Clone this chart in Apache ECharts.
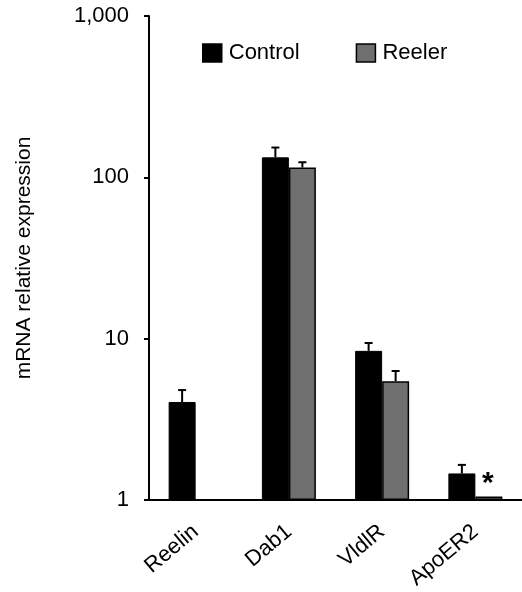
<!DOCTYPE html>
<html>
<head>
<meta charset="utf-8">
<script src="https://cdn.jsdelivr.net/npm/echarts@6/dist/echarts.min.js"></script>
<style>html,body{margin:0;padding:0;background:#fff}#c{width:522px;height:592px}</style>
</head>
<body>
<div id="c"></div>
<script>
var categories = ['Reelin', 'Dab1', 'VldlR', 'ApoER2'];
var controlValues = [4.05, 133, 8.4, 1.46];
var controlErrors = [4.8, 153, 9.4, 1.65];
var reelerValues = [null, 115, 5.45, 1.05];
var reelerErrors = [null, 124, 6.3, null];
var yTicks = [1, 10, 100, 1000];
var seriesNames = ['Control', 'Reeler'];
var significance = [null, null, null, '*'];

var BAR_W = 27;
var FONT = 'Liberation Sans, Arial, sans-serif';

function errSeries(vals, errs, offset) {
  var data = [];
  for (var i = 0; i < vals.length; i++) {
    if (vals[i] != null && errs[i] != null) data.push([i, vals[i], errs[i]]);
  }
  return {
    type: 'custom',
    silent: true,
    z: 1,
    renderItem: function (params, api) {
      var i = api.value(0);
      var p0 = api.coord([i, api.value(1)]);
      var p1 = api.coord([i, api.value(2)]);
      var x = p0[0] + offset;
      return {
        type: 'group',
        children: [
          {type: 'line', shape: {x1: x, y1: p0[1], x2: x, y2: p1[1]}, style: {stroke: '#000', lineWidth: 2}},
          {type: 'line', shape: {x1: x - 4, y1: p1[1], x2: x + 4, y2: p1[1]}, style: {stroke: '#000', lineWidth: 2}}
        ]
      };
    },
    data: data
  };
}

var sigData = [];
for (var i = 0; i < significance.length; i++) {
  if (significance[i]) sigData.push([i, reelerValues[i] != null ? reelerValues[i] : 1, significance[i]]);
}

var chart = echarts.init(document.getElementById('c'), null, {renderer: 'canvas'});
chart.setOption({
  animation: false,
  backgroundColor: '#fff',
  textStyle: {fontFamily: FONT},
  legend: {
    left: 202, top: 42, padding: 0,
    itemWidth: 19, itemHeight: 18, itemGap: 56,
    textStyle: {fontSize: 22, color: '#000', fontFamily: FONT, padding: [0, 0, 0, 2]},
    data: [
      {name: seriesNames[0], icon: 'rect', itemStyle: {color: '#000', borderColor: '#000', borderWidth: 1.5}},
      {name: seriesNames[1], icon: 'rect', itemStyle: {color: '#6f6f6f', borderColor: '#000', borderWidth: 1.5}}
    ]
  },
  grid: {left: 149, right: 0, top: 16, bottom: 91, containLabel: false},
  xAxis: {
    type: 'category',
    data: categories,
    axisLine: {lineStyle: {color: '#000', width: 2}},
    axisTick: {show: false},
    axisLabel: {rotate: 40, fontSize: 22, color: '#000', margin: 29, fontFamily: FONT, interval: 0}
  },
  yAxis: {
    type: 'log',
    logBase: 10,
    min: yTicks[0], max: yTicks[yTicks.length - 1],
    name: 'mRNA relative expression',
    nameLocation: 'middle',
    nameGap: 114,
    nameRotate: 90,
    nameTextStyle: {fontSize: 21, color: '#000', fontFamily: FONT},
    axisLine: {show: true, lineStyle: {color: '#000', width: 2}},
    axisTick: {show: true, inside: false, length: 5, lineStyle: {color: '#000', width: 2}},
    splitLine: {show: false},
    minorTick: {show: false},
    axisLabel: {
      fontSize: 22, color: '#000', margin: 20, fontFamily: FONT,
      formatter: function (v) { return Math.round(v).toLocaleString('en-US'); }
    }
  },
  series: [
    {
      name: seriesNames[0], type: 'bar', data: controlValues, barWidth: BAR_W, barGap: '0%',
      itemStyle: {color: '#000', borderColor: '#000', borderWidth: 1}, z: 2
    },
    {
      name: seriesNames[1], type: 'bar', data: reelerValues, barWidth: BAR_W, barGap: '0%',
      itemStyle: {color: '#6f6f6f', borderColor: '#000', borderWidth: 1.5}, z: 2
    },
    errSeries(controlValues, controlErrors, -BAR_W / 2),
    errSeries(reelerValues, reelerErrors, BAR_W / 2),
    {
      type: 'custom', silent: true, z: 3,
      renderItem: function (params, api) {
        var p = api.coord([api.value(0), api.value(1)]);
        return {type: 'text', style: {text: '*', x: p[0] + BAR_W / 2 - 1, y: p[1] - 13, fill: '#000',
          font: 'bold 30px ' + FONT, align: 'center', verticalAlign: 'middle'}};
      },
      data: sigData
    }
  ]
});
</script>
</body>
</html>
